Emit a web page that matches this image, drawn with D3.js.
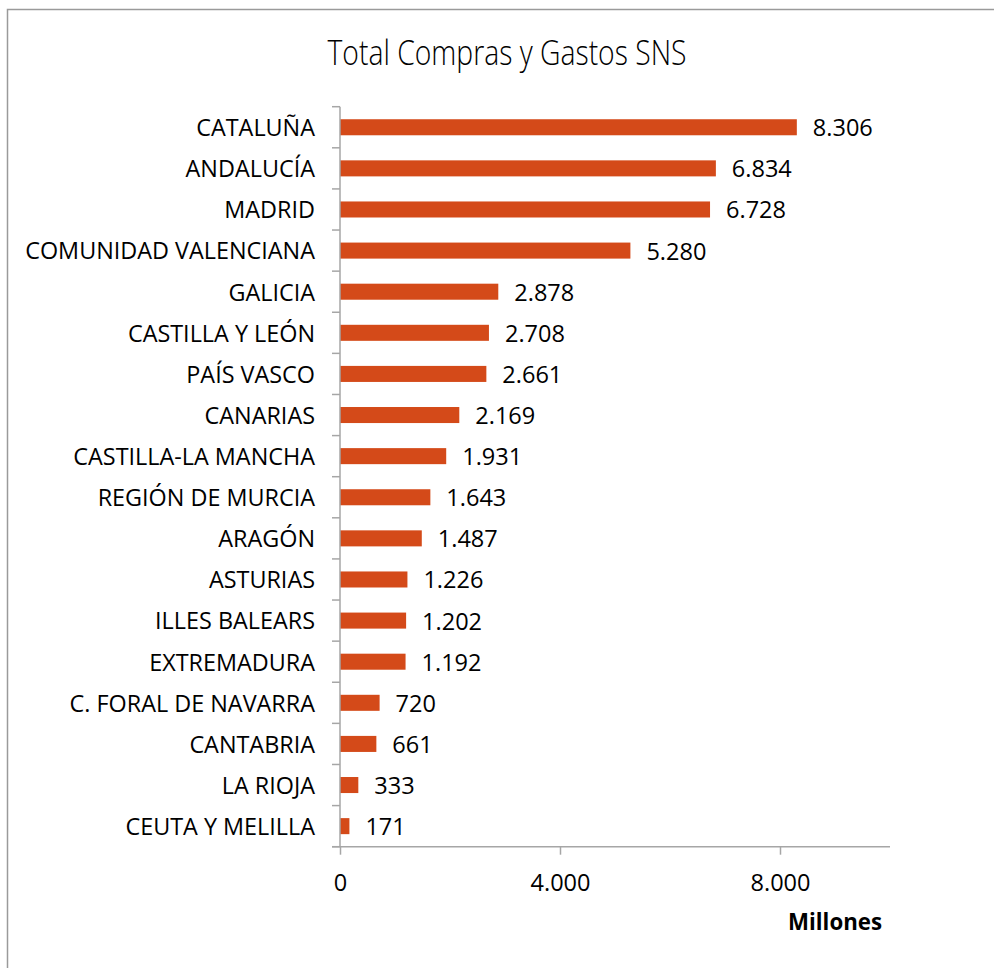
<!DOCTYPE html>
<html><head><meta charset="utf-8">
<script src="https://cdn.jsdelivr.net/npm/d3@7"></script>
<style>body{margin:0;background:#fff}</style>
</head><body>
<svg id="c" width="994" height="968"></svg>
<script>
const categories = ["CATALUÑA","ANDALUCÍA","MADRID","COMUNIDAD VALENCIANA","GALICIA","CASTILLA Y LEÓN","PAÍS VASCO","CANARIAS","CASTILLA-LA MANCHA","REGIÓN DE MURCIA","ARAGÓN","ASTURIAS","ILLES BALEARS","EXTREMADURA","C. FORAL DE NAVARRA","CANTABRIA","LA RIOJA","CEUTA Y MELILLA"];
const values = [8306,6834,6728,5280,2878,2708,2661,2169,1931,1643,1487,1226,1202,1192,720,661,333,171];
const xTicks = [0,4000,8000];
const title = "Total Compras y Gastos SNS";
const axisTitle = "Millones";

const FONT = "'Open Sans', sans-serif";
const loc = d3.formatLocale({decimal:",",thousands:".",grouping:[3],currency:["","€"]});
const fmt = loc.format(",d");

const svg = d3.select("#c");
svg.append("rect").attr("x",7.5).attr("y",9.5).attr("width",1100).attr("height",1100)
  .attr("fill","#fff").attr("stroke","#9a9a9a").attr("stroke-width",1.5);

const x = d3.scaleLinear().domain([0,10000]).range([340,890]);
const y = d3.scaleBand().domain(categories).range([106.7,846.7]).paddingInner(0.61).paddingOuter(0.305);

function fitSize(str, target, weight){
  const t = svg.append("text").attr("font-family",FONT).attr("font-size",100).attr("font-weight",weight||400).text(str);
  const w = t.node().getComputedTextLength(); t.remove();
  return 100*target/w;
}
const catSize = fitSize("COMUNIDAD VALENCIANA", 290);
const valSize = fitSize("8.306", 60);
const milSize = fitSize(axisTitle, 94, 700);

svg.append("text").attr("x",507).attr("y",65).attr("text-anchor","middle")
  .attr("font-family",FONT).attr("font-size",34).attr("font-weight",300)
  .attr("textLength",359).attr("lengthAdjust","spacingAndGlyphs")
  .attr("fill","#000").text(title);

svg.append("g").selectAll("rect").data(values).join("rect")
  .attr("x",x(0)).attr("y",(d,i)=>y(categories[i]))
  .attr("width",d=>x(d)-x(0)).attr("height",y.bandwidth())
  .attr("fill","#D44A19");

svg.append("g").selectAll("text").data(values).join("text")
  .attr("x",d=>x(d)+16).attr("y",(d,i)=>y(categories[i])+y.bandwidth()/2)
  .attr("dy","0.38em").attr("font-family",FONT).attr("font-size",valSize)
  .attr("fill","#000").text(d=>fmt(d));

const yAxis = d3.axisLeft(y).tickSize(0).tickPadding(25);
const gy = svg.append("g").attr("transform",`translate(${x(0)},0)`).call(yAxis);
gy.select(".domain").remove();
gy.selectAll("text").attr("font-family",FONT).attr("font-size",catSize).attr("fill","#000").attr("dy","0.38em");
const bounds = d3.range(categories.length+1).map(i=>y.range()[0]+i*y.step());
svg.append("g").selectAll("line").data(bounds).join("line")
  .attr("x1",x(0)-8).attr("x2",x(0)).attr("y1",d=>d).attr("y2",d=>d)
  .attr("stroke","#a6a6a6").attr("stroke-width",1.5);
svg.append("line").attr("x1",x(0)).attr("x2",x(0)).attr("y1",bounds[0]).attr("y2",bounds[bounds.length-1])
  .attr("stroke","#a6a6a6").attr("stroke-width",1.5);

const xAxis = d3.axisBottom(x).tickValues(xTicks).tickFormat(fmt).tickSize(8).tickSizeOuter(0).tickPadding(20);
const gx = svg.append("g").attr("transform",`translate(0,${bounds[bounds.length-1]})`).call(xAxis);
gx.select(".domain").attr("stroke","#a6a6a6").attr("stroke-width",1.5).attr("d",`M${x(0)-8},0H${x(10000)}`);
gx.selectAll(".tick line").attr("stroke","#a6a6a6").attr("stroke-width",1.5);
gx.selectAll("text").attr("font-family",FONT).attr("font-size",valSize).attr("fill","#000");

svg.append("text").attr("x",882).attr("y",930).attr("text-anchor","end")
  .attr("font-family",FONT).attr("font-size",milSize).attr("font-weight",700).attr("fill","#000").text(axisTitle);
</script>
</body></html>
